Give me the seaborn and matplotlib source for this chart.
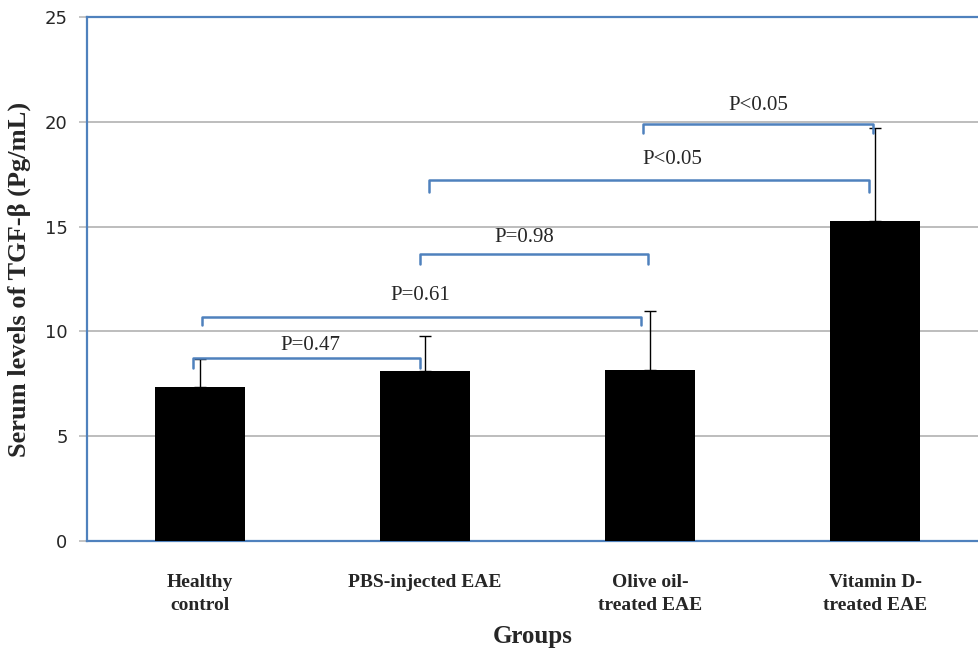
import seaborn as sns
import matplotlib.pyplot as plt
import pandas as pd

groups = ["Healthy\ncontrol", "PBS-injected EAE", "Olive oil-\ntreated EAE", "Vitamin D-\ntreated EAE"]
means = [7.35, 8.1, 8.15, 15.25]
errs = [1.35, 1.7, 2.8, 4.46]

# brackets: left x, right x, height, hook depth, label
br_left = [-0.03, 0.01, 0.98, 1.02, 1.97]
br_right = [0.98, 1.96, 1.99, 2.97, 2.99]
br_y = [8.71, 10.7, 13.67, 17.24, 19.9]
br_drop = [0.47, 0.4, 0.47, 0.57, 0.43]
br_text = ["P=0.47", "P=0.61", "P=0.98", "P<0.05", "P<0.05"]
txt_x = [0.49, 0.98, 1.44, 2.1, 2.48]
txt_y = [9.35, 11.7, 14.5, 18.2, 20.8]

df = pd.DataFrame({"group": groups, "mean": means})

sns.set_theme(style="white")
fig = plt.figure(figsize=(9.79, 6.62), dpi=100)
ax = fig.add_axes([0.0889, 0.1828, 0.9111, 0.7915])

sns.barplot(x="group", y="mean", data=df, color="black", width=0.4, ax=ax,
            saturation=1, linewidth=0, zorder=3)
ax.errorbar(range(len(means)), means, yerr=[[0] * len(errs), errs], fmt="none",
            ecolor="black", elinewidth=1, capsize=4, capthick=1, zorder=2)

blue = "#4f81bd"
for l, r, y, d in zip(br_left, br_right, br_y, br_drop):
    ax.plot([l, l, r, r], [y - d, y, y, y - d], color=blue, lw=1.8, zorder=4,
            solid_joinstyle="round")
for x, y, t in zip(txt_x, txt_y, br_text):
    ax.text(x, y, t, ha="center", va="center", fontsize=15, family="Liberation Serif")

ax.set_xlim(-0.5, 3.46)
ax.set_ylim(0, 25)
ax.set_yticks([0, 5, 10, 15, 20, 25])
ax.yaxis.grid(True, color="#bdbdbd", lw=1.4)
ax.set_axisbelow(True)
ax.tick_params(axis="y", left=True, length=6, color="#bdbdbd", labelsize=13, pad=8)
ax.tick_params(axis="x", bottom=False, pad=18)
for lab in ax.get_xticklabels():
    lab.set_fontfamily("Liberation Serif")
    lab.set_fontweight("bold")
    lab.set_fontsize(14)
    lab.set_linespacing(1.45)
    lab.set_verticalalignment("top")

for s in ["left", "top", "bottom"]:
    ax.spines[s].set_color(blue)
    ax.spines[s].set_linewidth(1.6)
ax.spines["right"].set_visible(False)

ax.set_xlabel("Groups", fontsize=18, fontweight="bold", family="Liberation Serif", labelpad=8)
ax.set_ylabel("Serum levels of TGF-β (Pg/mL)", fontsize=19, fontweight="bold",
              family="Liberation Serif", labelpad=10)

fig.savefig("out.png", dpi=100)
